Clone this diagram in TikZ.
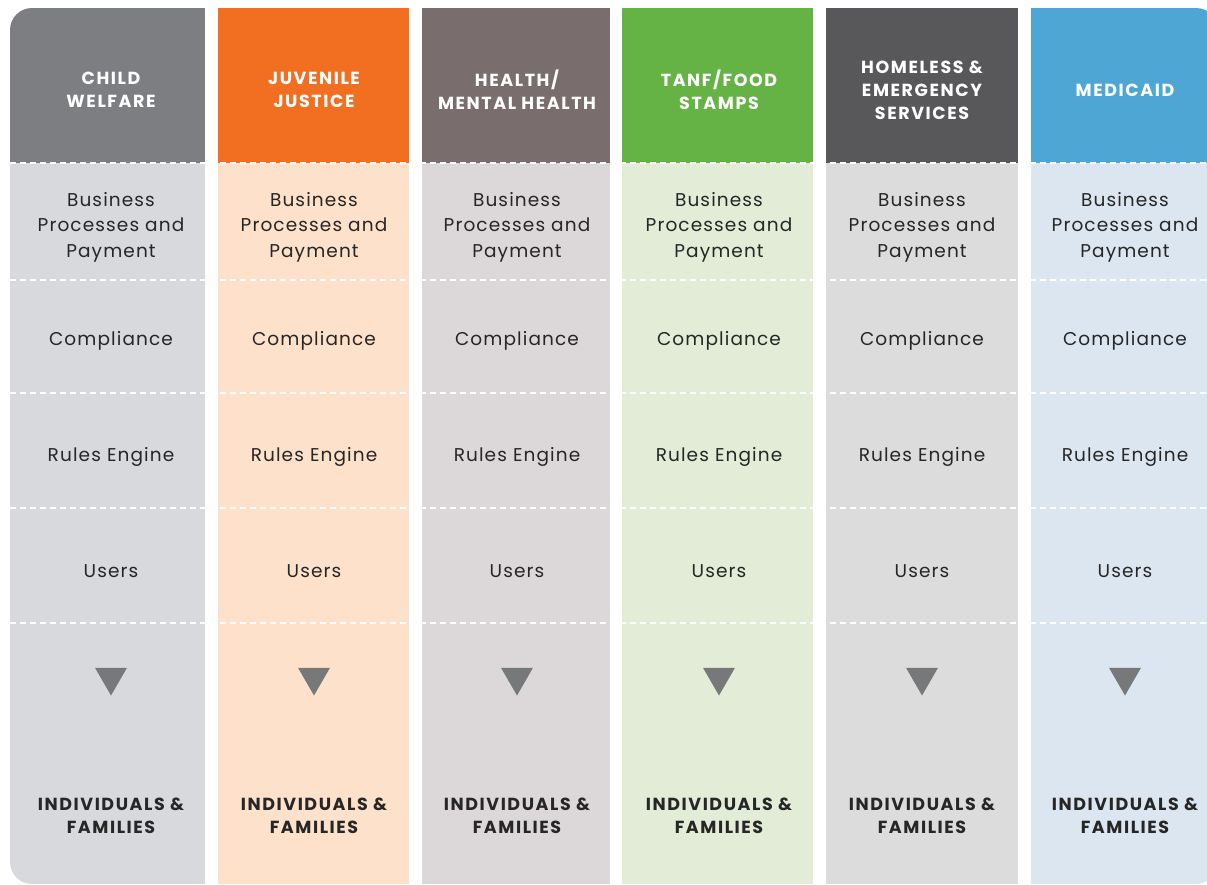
\documentclass[tikz,border=0pt]{standalone}
\usepackage{fontspec}
\setmainfont{Poppins}
\newfontfamily\cellfont[LetterSpace=6]{Poppins}
\newfontfamily\capsfont[LetterSpace=9]{Poppins}
\usetikzlibrary{shapes.geometric}
\definecolor{cwhead}{HTML}{7D7E82}
\definecolor{cwbody}{HTML}{D7D9DC}
\definecolor{jjhead}{HTML}{F26F21}
\definecolor{jjbody}{HTML}{FDE1CA}
\definecolor{hmhhead}{HTML}{7A6D6E}
\definecolor{hmhbody}{HTML}{DCD8D9}
\definecolor{tfhead}{HTML}{66B345}
\definecolor{tfbody}{HTML}{E2ECD6}
\definecolor{heshead}{HTML}{58585A}
\definecolor{hesbody}{HTML}{DDDCDD}
\definecolor{mcdhead}{HTML}{4EA6D4}
\definecolor{mcdbody}{HTML}{DCE6F1}
\definecolor{txtdark}{HTML}{262626}
\definecolor{tridark}{HTML}{77787A}
\tikzset{
  headtxt/.style = {align=center, inner sep=0pt, text=white,
    font=\capsfont\bfseries\fontsize{17.5}{23}\selectfont},% titre de colonne
  celltxt/.style = {align=center, inner sep=0pt, text=txtdark,
    font=\cellfont\fontsize{18.5}{25.5}\selectfont},% case du milieu
  foottxt/.style = {align=center, inner sep=0pt, text=txtdark,
    font=\capsfont\bfseries\fontsize{17.5}{23}\selectfont},% bas de colonne
  downtri/.style = {regular polygon, regular polygon sides=3,
    shape border rotate=180, fill=tridark, inner sep=0pt,
    minimum size=37pt},% fleche vers le bas
  sepline/.style = {white, line width=1.6pt, dash pattern=on 6pt off 4pt}
}
\begin{document}
\begin{tikzpicture}[x=1pt, y=-1pt]
  \useasboundingbox (0,0) rectangle (1207,884);
  % fonds des colonnes
  \begin{scope}
    \clip[rounded corners=22pt] (10,8) rectangle (1218,884);
    \fill[cwhead]  (10,8)    rectangle (205,163);
    \fill[cwbody]  (10,163)  rectangle (205,884);
    \fill[jjhead]  (218,8)   rectangle (409,163);
    \fill[jjbody]  (218,163) rectangle (409,884);
    \fill[hmhhead] (422,8)   rectangle (610,163);
    \fill[hmhbody] (422,163) rectangle (610,884);
    \fill[tfhead]  (622,8)   rectangle (813,163);
    \fill[tfbody]  (622,163) rectangle (813,884);
    \fill[heshead] (826,8)   rectangle (1018,163);
    \fill[hesbody] (826,163) rectangle (1018,884);
    \fill[mcdhead] (1031,8)  rectangle (1218,163);
    \fill[mcdbody] (1031,163) rectangle (1218,884);
  \end{scope}
  % pointilles
  \draw[sepline] (10,163) -- (1207,163);
  \draw[sepline] (10,280) -- (1207,280);
  \draw[sepline] (10,393) -- (1207,393);
  \draw[sepline] (10,508) -- (1207,508);
  \draw[sepline] (10,623) -- (1207,623);

  % child welfare
  \node[headtxt] (cw-head)  at (111,90)  {CHILD\\WELFARE};
  \node[celltxt] (cw-bpp)   at (111,227) {Business\\Processes and\\Payment};
  \node[celltxt] (cw-comp)  at (111,341) {Compliance};
  \node[celltxt] (cw-rules) at (111,457) {Rules Engine};
  \node[celltxt] (cw-users) at (111,571) {Users};
  \node[downtri] (cw-tri)   at (111,677) {};
  \node[foottxt] (cw-fam)   at (111,816) {INDIVIDUALS \&\\FAMILIES};
  % juvenile justice
  \node[headtxt] (jj-head)  at (314,90)  {JUVENILE\\JUSTICE};
  \node[celltxt] (jj-bpp)   at (314,227) {Business\\Processes and\\Payment};
  \node[celltxt] (jj-comp)  at (314,341) {Compliance};
  \node[celltxt] (jj-rules) at (314,457) {Rules Engine};
  \node[celltxt] (jj-users) at (314,571) {Users};
  \node[downtri] (jj-tri)   at (314,677) {};
  \node[foottxt] (jj-fam)   at (314,816) {INDIVIDUALS \&\\FAMILIES};
  % health / mental health
  \node[headtxt] (hmh-head)  at (517,90)  {HEALTH/\\MENTAL HEALTH};
  \node[celltxt] (hmh-bpp)   at (517,227) {Business\\Processes and\\Payment};
  \node[celltxt] (hmh-comp)  at (517,341) {Compliance};
  \node[celltxt] (hmh-rules) at (517,457) {Rules Engine};
  \node[celltxt] (hmh-users) at (517,571) {Users};
  \node[downtri] (hmh-tri)   at (517,677) {};
  \node[foottxt] (hmh-fam)   at (517,816) {INDIVIDUALS \&\\FAMILIES};
  % tanf / food stamps
  \node[headtxt] (tf-head)  at (719,90)  {TANF/FOOD\\STAMPS};
  \node[celltxt] (tf-bpp)   at (719,227) {Business\\Processes and\\Payment};
  \node[celltxt] (tf-comp)  at (719,341) {Compliance};
  \node[celltxt] (tf-rules) at (719,457) {Rules Engine};
  \node[celltxt] (tf-users) at (719,571) {Users};
  \node[downtri] (tf-tri)   at (719,677) {};
  \node[foottxt] (tf-fam)   at (719,816) {INDIVIDUALS \&\\FAMILIES};
  % homeless & emergency services
  \node[headtxt] (hes-head)  at (922,90)  {HOMELESS \&\\EMERGENCY\\SERVICES};
  \node[celltxt] (hes-bpp)   at (922,227) {Business\\Processes and\\Payment};
  \node[celltxt] (hes-comp)  at (922,341) {Compliance};
  \node[celltxt] (hes-rules) at (922,457) {Rules Engine};
  \node[celltxt] (hes-users) at (922,571) {Users};
  \node[downtri] (hes-tri)   at (922,677) {};
  \node[foottxt] (hes-fam)   at (922,816) {INDIVIDUALS \&\\FAMILIES};
  % medicaid
  \node[headtxt] (mcd-head)  at (1125,90)  {MEDICAID};
  \node[celltxt] (mcd-bpp)   at (1125,227) {Business\\Processes and\\Payment};
  \node[celltxt] (mcd-comp)  at (1125,341) {Compliance};
  \node[celltxt] (mcd-rules) at (1125,457) {Rules Engine};
  \node[celltxt] (mcd-users) at (1125,571) {Users};
  \node[downtri] (mcd-tri)   at (1125,677) {};
  \node[foottxt] (mcd-fam)   at (1125,816) {INDIVIDUALS \&\\FAMILIES};
\end{tikzpicture}
\end{document}
